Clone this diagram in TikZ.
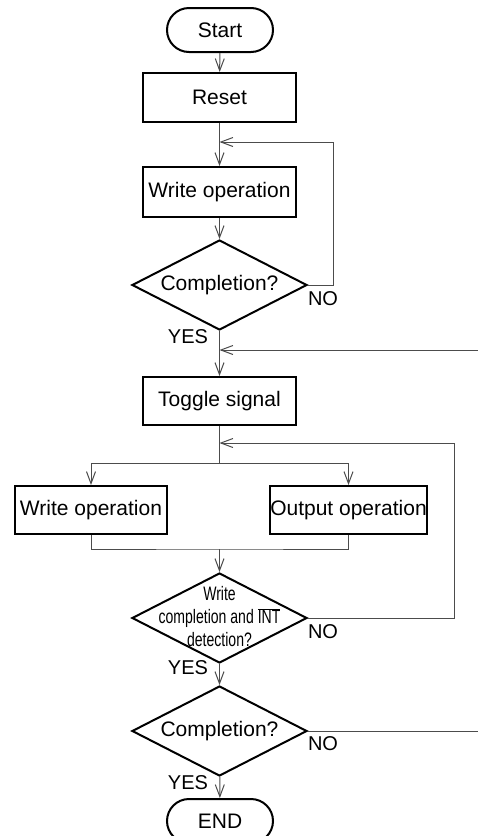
\documentclass[tikz,border=0pt]{standalone}
\usepackage{fontspec}
\setmainfont{Liberation Sans}
\newfontfamily\narrowfont[FakeStretch=0.72]{Liberation Sans}
\usetikzlibrary{shapes.geometric,arrows.meta}
\begin{document}
\begin{tikzpicture}[x=1pt,y=-1pt,
  box/.style={draw,line width=2pt,minimum width=153pt,minimum height=49pt,inner sep=0pt,font=\fontsize{21}{25}\selectfont},
  term/.style={draw,line width=2pt,rounded corners=22pt,minimum width=106pt,minimum height=44pt,inner sep=0pt,font=\fontsize{21}{25}\selectfont},
  dia/.style={draw,diamond,line width=2pt,minimum width=175pt,minimum height=90pt,inner sep=0pt},
  txt/.style={font=\fontsize{21}{25}\selectfont,inner sep=0pt},
  lbl/.style={font=\fontsize{20}{24}\selectfont,inner sep=0pt},
  conn/.style={line width=1pt,draw=black!70},
  arr/.style={conn,-{Straight Barb[length=12pt,width=9pt]}}
]
\useasboundingbox[fill=white] (0,0) rectangle (478,836);

% nodes
\node[term] (start) at (220,30) {Start};
\node[box] (reset) at (219.5,97.5) {Reset};
\node[box,minimum height=50pt] (write1) at (219.5,192) {Write operation};
\node[dia] (dec1) at (219.5,285) {};
\node[txt] (dec1t) at (dec1) {Completion?};
\node[box,minimum height=48pt] (toggle) at (219.5,401) {Toggle signal};
\node[box,minimum width=152pt,minimum height=48pt] (writeL) at (91,510) {Write operation};
\node[box,minimum width=151pt,minimum height=48pt] (outR) at (348.5,510) {Output operation};
\node[dia] (dec2) at (219.5,618) {};
\node[align=center,inner sep=0pt,font=\narrowfont\fontsize{19.5}{23}\selectfont] (dec2t) at (219.5,617)
  {Write\\completion and $\overline{\hbox{\narrowfont\fontsize{19.5}{23}\selectfont INT}}$\\detection?};
\node[dia] (dec3) at (219.5,731) {};
\node[txt] (dec3t) at (dec3) {Completion?};
\node[term] (stop) at (220,821) {END};

% labels
\node[lbl] (no1) at (323,299) {NO};
\node[lbl] (yes1) at (188,337) {YES};
\node[lbl] (no2) at (323,632) {NO};
\node[lbl] (yes2) at (188,668) {YES};
\node[lbl] (no3) at (323,744) {NO};
\node[lbl] (yes3) at (188,783) {YES};

% junction coordinates
\coordinate (j1) at (219.5,142);
\coordinate (r1) at (333,142);
\coordinate (j2) at (219.5,350);
\coordinate (e2) at (478,350);
\coordinate (j3) at (219.5,443);
\coordinate (r3) at (454,443);
\coordinate (b) at (219.5,463);
\coordinate (m) at (219.5,549);
\coordinate (e3) at (478,731);

% connectors
\draw[arr] (start) -- (reset);
\draw[arr] (reset) -- (write1);
\draw[arr] (dec1.east) -| (r1) -- (j1);
\draw[arr] (write1) -- (dec1);
\draw[arr] (dec1) -- (toggle);
\draw[arr] (e2) -- (j2);
\draw[conn] (toggle) -- (b);
\draw[arr] (b) -| (writeL.north);
\draw[arr] (b) -| (outR.north);
\draw[arr] (r3) -- (j3);
\draw[conn] (dec2.east) -| (r3);
\draw[conn] (writeL.south) |- (m) -| (outR.south);
\draw[arr] (m) -- (dec2);
\draw[arr] (dec2) -- (dec3);
\draw[conn] (dec3.east) -- (e3);
\draw[arr] (dec3) -- (stop);
\end{tikzpicture}
\end{document}
